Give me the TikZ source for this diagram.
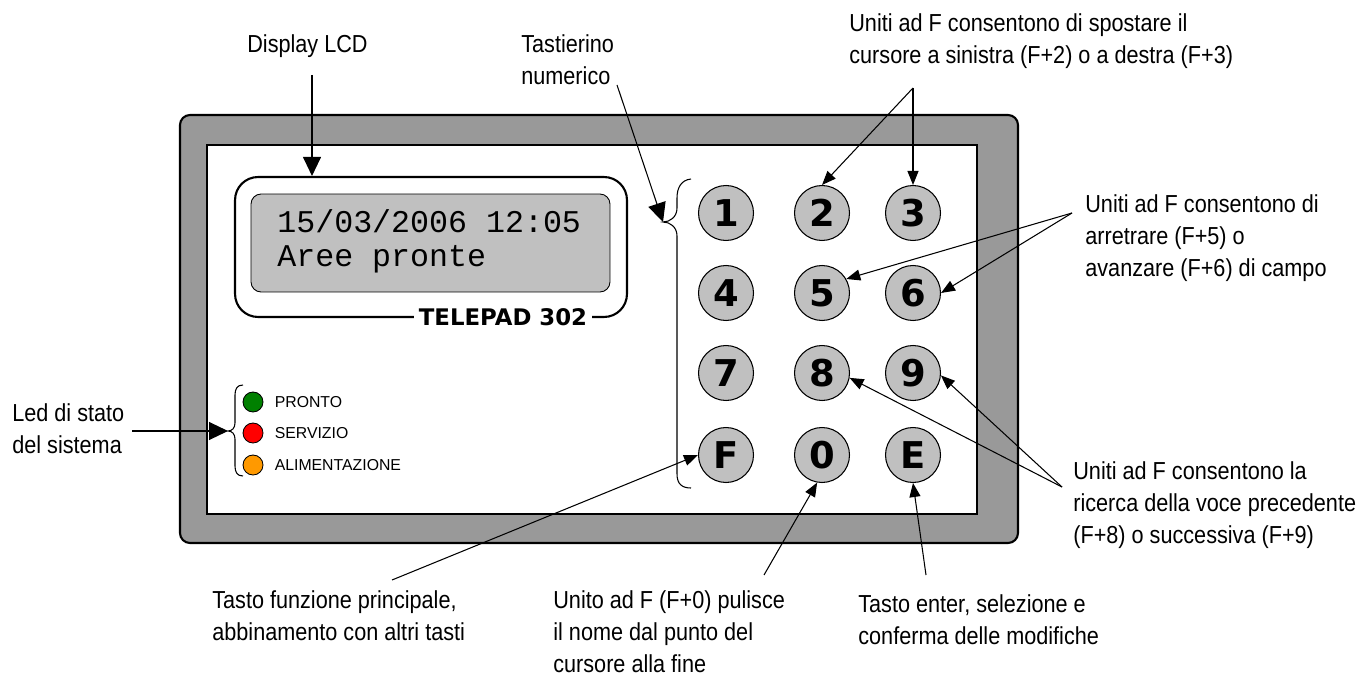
\documentclass[tikz,border=0pt]{standalone}
\usepackage{fontspec}
\setmainfont{Liberation Sans}
\newfontfamily\narrowfont{Liberation Sans}[FakeStretch=0.88]
\newfontfamily\lcdfont{Liberation Mono}
\newfontfamily\keyfont{DejaVu Sans}
\usepackage{xcolor}
\usetikzlibrary{arrows.meta,positioning,calc}

\definecolor{framegray}{RGB}{153,153,153}
\definecolor{keygray}{RGB}{192,192,192}
\definecolor{ledgreen}{RGB}{0,128,0}
\definecolor{ledred}{RGB}{255,0,0}
\definecolor{ledorange}{RGB}{255,153,0}

\begin{document}
\begin{tikzpicture}[x=0.02cm, y=-0.02cm,
  callout/.style={font=\narrowfont\fontsize{14}{18.2}\selectfont, align=left, anchor=north west, inner sep=0pt},
  key/.style={circle, draw, fill=keygray, line width=0.6pt, minimum size=1.1cm, inner sep=0pt,
    font=\keyfont\bfseries\fontsize{21}{21}\selectfont},
  led/.style={circle, draw, line width=0.5pt, minimum size=0.4cm, inner sep=0pt},
  pointer/.style={-{Triangle[length=0.28cm,width=0.22cm]}, line width=0.6pt},
  bigpointer/.style={-{Triangle[length=0.38cm,width=0.36cm]}, line width=0.6pt}]
  \useasboundingbox (0,0) rectangle (1361,675);

  % case of the keypad
  \draw[line width=1.2pt, fill=framegray, rounded corners=0.2cm] (180,115) rectangle (1018,543);
  \draw[line width=1pt, fill=white] (207,145) rectangle (977,514);

  % LCD display
  \node[draw, line width=1.2pt, fill=white, rounded corners=0.46cm,
    minimum width=7.84cm, minimum height=2.8cm] (dispbox) at (431,247) {};
  \node[draw, line width=0.5pt, fill=keygray, rounded corners=0.2cm,
    minimum width=7.18cm, minimum height=1.96cm] (lcd) at (430.5,243) {};
  \node[anchor=base west, inner sep=0pt, font=\lcdfont\fontsize{18}{18}\selectfont] (lcdline1) at (277,233) {15/03/2006 12:05};
  \node[anchor=base west, inner sep=0pt, font=\lcdfont\fontsize{18}{18}\selectfont] (lcdline2) at (277,267) {Aree pronte};
  \node[fill=white, inner xsep=0.1cm, inner ysep=1pt, font=\keyfont\bfseries\fontsize{13}{13}\selectfont] (model) at (503,317) {TELEPAD 302};

  % keys
  \foreach \lbl/\nm/\cx/\cy in {1/k1/726/213, 2/k2/822/213, 3/k3/913/213,
                                4/k4/726/293, 5/k5/822/293, 6/k6/913/293,
                                7/k7/726/373, 8/k8/822/373, 9/k9/913/373,
                                F/kF/726/455, 0/k0/822/455, E/kE/913/455}
    \node[key] (\nm) at (\cx,\cy) {\lbl};

  % status leds
  \node[led, fill=ledgreen] (ledok) at (253,402) {};
  \node[led, fill=ledred] (ledsrv) at (253,433) {};
  \node[led, fill=ledorange] (ledpwr) at (253,465) {};
  \node[right=0.22cm of ledok, inner sep=0pt, font=\fontsize{9}{9}\selectfont] (ledoktxt) {PRONTO};
  \node[right=0.22cm of ledsrv, inner sep=0pt, font=\fontsize{9}{9}\selectfont] (ledsrvtxt) {SERVIZIO};
  \node[right=0.22cm of ledpwr, inner sep=0pt, font=\fontsize{9}{9}\selectfont] (ledpwrtxt) {ALIMENTAZIONE};

  % braces
  \coordinate (padtip) at (663,222);
  \coordinate (ledtip) at (228,431);
  \draw[line width=0.6pt] (691,179) .. controls (681,180) and (677,188) .. (677,198) -- (677,208)
    .. controls (677,217) and (670,222) .. (padtip) .. controls (670,222) and (677,227) .. (677,236)
    -- (677,474) .. controls (677,484) and (682,488) .. (691,488);
  \draw[line width=0.6pt] (243,385) .. controls (237,385) and (235,389) .. (235,395) -- (235,423)
    .. controls (235,428) and (232,431) .. (ledtip) .. controls (232,431) and (235,434) .. (235,439)
    -- (235,466) .. controls (235,472) and (237,476) .. (243,476);

  % callouts
  \node[callout, anchor=north] (lcdlabel) at (307.5,34) {Display LCD};
  \node[callout] (padlabel) at (521,34) {Tastierino\\numerico};
  \node[callout] (curlabel) at (849,13) {Uniti ad F consentono di spostare il\\cursore a sinistra (F+2) o a destra (F+3)};
  \node[callout] (fldlabel) at (1085,194) {Uniti ad F consentono di\\arretrare (F+5) o\\avanzare (F+6) di campo};
  \node[callout] (srclabel) at (1073,461) {Uniti ad F consentono la\\ricerca della voce precedente\\(F+8) o successiva (F+9)};
  \node[callout] (ledlabel) at (12,403) {Led di stato\\del sistema};
  \node[callout] (fnlabel) at (212,590) {Tasto funzione principale,\\abbinamento con altri tasti};
  \node[callout] (zerolabel) at (553,590) {Unito ad F (F+0) pulisce\\il nome dal punto del\\cursore alla fine};
  \node[callout] (enterlabel) at (858,594) {Tasto enter, selezione e\\conferma delle modifiche};

  % connectors
  \coordinate (lcdfrom) at (312,75);
  \coordinate (padfrom) at (617,85);
  \coordinate (ledfrom) at (132,431);
  \coordinate (v23) at (913,88);
  \coordinate (v56) at (1072,213);
  \coordinate (v89) at (1062,487);
  \coordinate (fnfrom) at (392,580);
  \coordinate (zerofrom) at (764,575);
  \coordinate (enterfrom) at (926,575);

  \draw[bigpointer] (lcdfrom) -- (lcdfrom |- dispbox.north);
  \draw[bigpointer] (padfrom) -- (padtip);
  \draw[bigpointer] (ledfrom) -- (ledtip);
  \draw[pointer] (v23) -- (k2.north);
  \draw[pointer] (v23) -- (k3.north);
  \draw[pointer] (v56) -- (k5.30);
  \draw[pointer] (v56) -- (k6.east);
  \draw[pointer] (v89) -- (k8.-10);
  \draw[pointer] (v89) -- (k9.-5);
  \draw[pointer] (fnfrom) -- (kF.west);
  \draw[pointer] (zerofrom) -- (k0.-100);
  \draw[pointer] (enterfrom) -- (kE.south);
\end{tikzpicture}
\end{document}
